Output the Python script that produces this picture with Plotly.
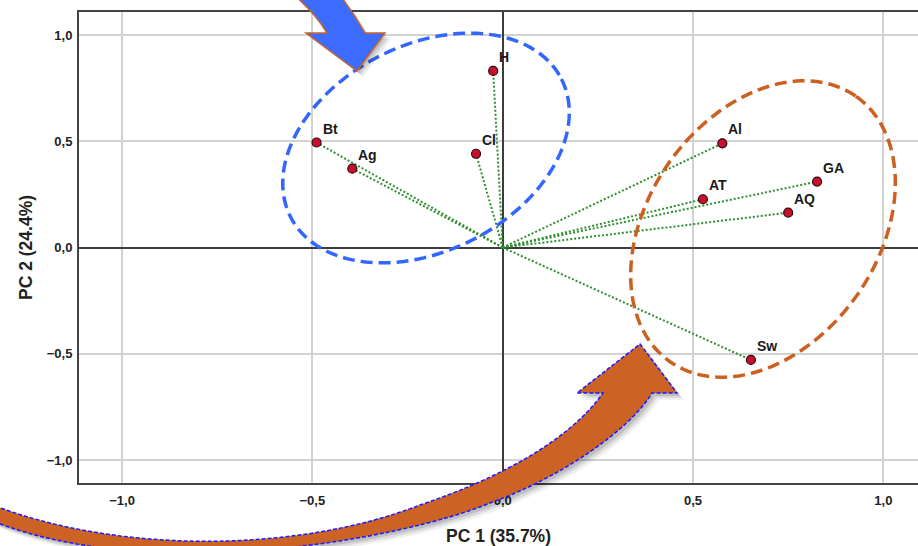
import plotly.graph_objects as go
import numpy as np

# ---- data ----
names = ["Bt", "Ag", "H", "Cl", "Al", "GA", "AT", "AQ", "Sw"]
pc1 = [-0.489, -0.395, -0.025, -0.070, 0.577, 0.826, 0.526, 0.750, 0.652]
pc2 = [0.494, 0.371, 0.831, 0.441, 0.490, 0.310, 0.227, 0.164, -0.529]
tick_vals = [-1.0, -0.5, 0.0, 0.5, 1.0]
x_title = "PC 1 (35.7%)"
y_title = "PC 2 (24.4%)"

W, H = 918, 546
ML, MR, MT, MB = 79, 0, 12, 63
PW, PH = W - ML - MR, H - MT - MB

def px2paper(px, py):
    return (px - ML) / PW, (MT + PH - py) / PH

def path_from_pixels(cmds):
    out = []
    for c in cmds:
        s = c[0]
        for (px, py) in c[1:]:
            a, b = px2paper(px, py)
            s += f" {a:.5f},{b:.5f}"
        out.append(s)
    return " ".join(out) + " Z"

def ellipse_path(cx, cy, a, b, ux, uy):
    vx, vy = -uy, ux
    t = np.linspace(0, 2 * np.pi, 181)
    xs = cx + a * np.cos(t) * ux + b * np.sin(t) * vx
    ys = cy + a * np.cos(t) * uy + b * np.sin(t) * vy
    parts = []
    for i, (x, y) in enumerate(zip(xs, ys)):
        p, q = px2paper(x, y)
        parts.append(("M" if i == 0 else "L") + f" {p:.5f},{q:.5f}")
    return " ".join(parts) + " Z"

fig = go.Figure()

# loading vectors from origin
lx, ly = [], []
for x, y in zip(pc1, pc2):
    lx += [0, x, None]
    ly += [0, y, None]
fig.add_trace(go.Scatter(x=lx, y=ly, mode="lines",
                         line=dict(color="#2f8f2f", width=2, dash="2px,2px"),
                         hoverinfo="skip", showlegend=False))
fig.add_trace(go.Scatter(x=pc1, y=pc2, mode="markers", text=names,
                         marker=dict(size=9, color="#c8102e",
                                     line=dict(color="#2a0505", width=1.2)),
                         showlegend=False))

annotations = []
for n, x, y in zip(names, pc1, pc2):
    annotations.append(dict(x=x, y=y, text=n, showarrow=False,
                            xanchor="left", yanchor="middle", xshift=4, yshift=14,
                            font=dict(family="Liberation Sans", size=14,
                                      color="#1a1a1a", weight="bold")))

shapes = []
th = np.deg2rad(27)
shapes.append(dict(type="path", xref="paper", yref="paper",
                   path=ellipse_path(426, 148, 152, 103, np.cos(th), -np.sin(th)),
                   line=dict(color="#3366ff", width=3.5, dash="12px,6px")))
ph = np.deg2rad(35)
shapes.append(dict(type="path", xref="paper", yref="paper",
                   path=ellipse_path(763, 229, 162, 115, np.sin(ph), -np.cos(ph)),
                   line=dict(color="#cc6020", width=3.5, dash="12px,6px")))

def shadow(cmds, dx, dy):
    return [(c[0],) + tuple((p[0] + dx, p[1] + dy) for p in c[1:]) for c in cmds]

# blue arrow (top)
blue_arrow = [("M", (291, -8)), ("Q", (316, 14), (327, 33)), ("L", (306, 33)),
              ("L", (357, 71)), ("L", (385, 33)), ("L", (365, 33)),
              ("Q", (352, 10), (337, -8))]
for d, op in [(6, 0.07), (4, 0.1), (2, 0.12)]:
    shapes.append(dict(type="path", xref="paper", yref="paper",
                       path=path_from_pixels(shadow(blue_arrow, d, d)),
                       fillcolor=f"rgba(0,0,0,{op})", line=dict(width=0)))
shapes.append(dict(type="path", xref="paper", yref="paper", path=path_from_pixels(blue_arrow),
                   fillcolor="#3b6cff", line=dict(color="#c8642a", width=1.5)))

# orange arrow (bottom)
orange_arrow = [("M", (-10, 504)),
                ("C", (120, 555), (300, 552), (420, 505)),
                ("C", (500, 478), (570, 440), (603, 393)),
                ("L", (577, 393)), ("L", (640, 344)), ("L", (677, 393)), ("L", (652, 393)),
                ("C", (630, 430), (560, 478), (490, 503)),
                ("C", (400, 540), (150, 585), (-10, 520))]
for d, op in [(7, 0.06), (5, 0.09), (3, 0.12)]:
    shapes.append(dict(type="path", xref="paper", yref="paper",
                       path=path_from_pixels(shadow(orange_arrow, d, d)),
                       fillcolor=f"rgba(0,0,0,{op})", line=dict(width=0)))
shapes.append(dict(type="path", xref="paper", yref="paper", path=path_from_pixels(orange_arrow),
                   fillcolor="#cc6325", line=dict(color="#1a1aff", width=1.5, dash="4px,2px")))

tickfont = dict(family="Liberation Sans", size=13, color="#222222", weight="bold")
titlefont = dict(family="Liberation Sans", size=17.5, color="#222222", weight="bold")
axis_common = dict(tickvals=tick_vals, showgrid=True, gridcolor="#d2d2d2", gridwidth=1.5,
                   zeroline=True, zerolinecolor="#3c3c3c", zerolinewidth=2,
                   showline=True, linecolor="#444444", linewidth=2,
                   ticks="", tickfont=tickfont, tickformat=".1f")

fig.update_layout(
    width=W, height=H, margin=dict(l=ML, r=MR, t=MT, b=MB),
    plot_bgcolor="white", paper_bgcolor="white",
    separators=", ",
    xaxis=dict(range=[-1.113, 1.091], mirror=True, ticklabelstandoff=4,
               title=dict(text=x_title, standoff=24, font=titlefont),
               **axis_common),
    yaxis=dict(range=[-1.108, 1.108], ticklabelstandoff=2,
               title=dict(text=y_title, standoff=10, font=titlefont),
               **axis_common),
    annotations=annotations, shapes=shapes,
)

fig.write_html("out.html")
